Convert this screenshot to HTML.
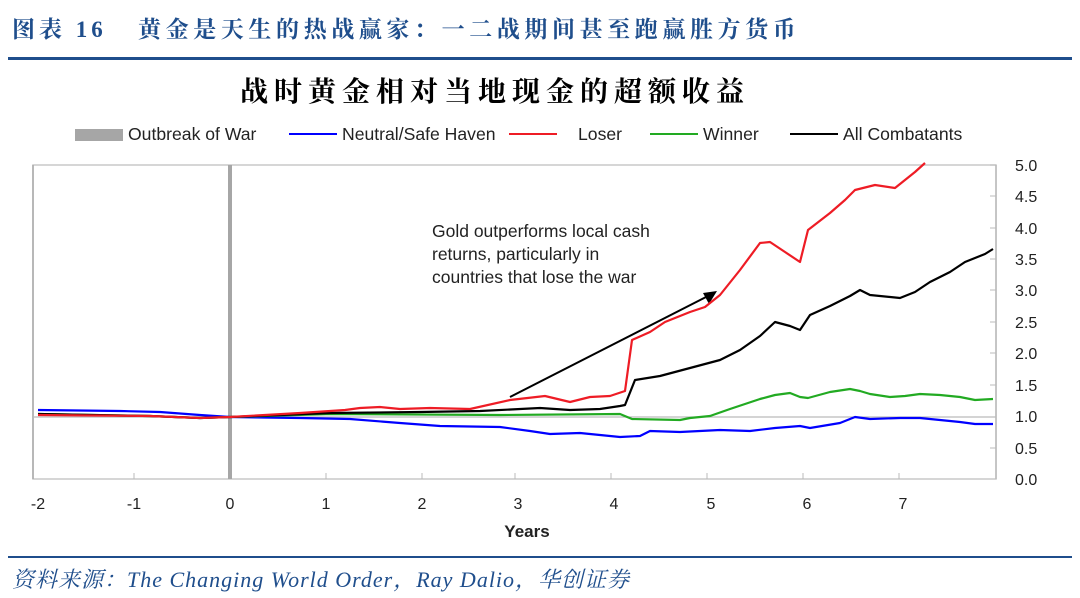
<!DOCTYPE html>
<html><head><meta charset="utf-8"><style>
body{margin:0;background:#fff;width:1080px;height:598px;overflow:hidden}
svg{display:block}
</style></head><body>
<svg width="1080" height="598" viewBox="0 0 1080 598" xmlns="http://www.w3.org/2000/svg">
<text x="12" y="37" font-family="'Liberation Serif','Noto Serif CJK SC',serif" font-size="23" font-weight="bold" fill="#1f4e8c" letter-spacing="4">图表 16</text>
<text x="138" y="37" font-family="'Liberation Serif','Noto Serif CJK SC',serif" font-size="23" font-weight="bold" fill="#1f4e8c" letter-spacing="4.6">黄金是天生的热战赢家：一二战期间甚至跑赢胜方货币</text>
<rect x="8" y="57" width="1064" height="3" fill="#1f4e8c"/>
<text x="495" y="101" text-anchor="middle" font-family="'Noto Serif CJK SC',serif" font-size="28" font-weight="bold" fill="#000" letter-spacing="6">战时黄金相对当地现金的超额收益</text>
<g font-family="'Liberation Sans','DejaVu Sans',sans-serif" font-size="17.6" fill="#222">
<rect x="75" y="129" width="48" height="12" fill="#a6a6a6"/><text x="128" y="140">Outbreak of War</text>
<line x1="289" y1="134" x2="337" y2="134" stroke="#0000ff" stroke-width="2"/><text x="342" y="140">Neutral/Safe Haven</text>
<line x1="509" y1="134" x2="557" y2="134" stroke="#ee1c25" stroke-width="2"/><text x="578" y="140">Loser</text>
<line x1="650" y1="134" x2="698" y2="134" stroke="#22aa22" stroke-width="2"/><text x="703" y="140">Winner</text>
<line x1="790" y1="134" x2="838" y2="134" stroke="#000" stroke-width="2"/><text x="843" y="140">All Combatants</text>
</g>
<rect x="33" y="165" width="963" height="314" fill="none" stroke="#c8c8c8" stroke-width="1.5"/>
<line x1="33" y1="165" x2="33" y2="479" stroke="#aaa" stroke-width="1.5"/>
<line x1="33" y1="417" x2="996" y2="417" stroke="#bbb" stroke-width="1.2"/>
<line x1="996" y1="165" x2="996" y2="479" stroke="#bbb" stroke-width="1.5"/>
<rect x="228" y="165" width="4" height="314" fill="#a6a6a6"/>
<g stroke="#bbb" stroke-width="1">
<line x1="996" y1="165" x2="990" y2="165"/><line x1="996" y1="196" x2="990" y2="196"/><line x1="996" y1="228" x2="990" y2="228"/><line x1="996" y1="259" x2="990" y2="259"/><line x1="996" y1="290" x2="990" y2="290"/><line x1="996" y1="322" x2="990" y2="322"/><line x1="996" y1="353" x2="990" y2="353"/><line x1="996" y1="385" x2="990" y2="385"/><line x1="996" y1="448" x2="990" y2="448"/>
<line x1="326" y1="479" x2="326" y2="473"/><line x1="422" y1="479" x2="422" y2="473"/><line x1="515" y1="479" x2="515" y2="473"/><line x1="611" y1="479" x2="611" y2="473"/><line x1="707" y1="479" x2="707" y2="473"/><line x1="803" y1="479" x2="803" y2="473"/><line x1="899" y1="479" x2="899" y2="473"/><line x1="134" y1="479" x2="134" y2="473"/>
</g>
<g font-family="'Liberation Sans','DejaVu Sans',sans-serif" font-size="16" fill="#222">
<text x="1015" y="171">5.0</text><text x="1015" y="202">4.5</text><text x="1015" y="234">4.0</text><text x="1015" y="265">3.5</text><text x="1015" y="296">3.0</text><text x="1015" y="328">2.5</text><text x="1015" y="359">2.0</text><text x="1015" y="391">1.5</text><text x="1015" y="422">1.0</text><text x="1015" y="454">0.5</text><text x="1015" y="485">0.0</text>
<g text-anchor="middle"><text x="38" y="509">-2</text><text x="134" y="509">-1</text><text x="230" y="509">0</text><text x="326" y="509">1</text><text x="422" y="509">2</text><text x="518" y="509">3</text><text x="614" y="509">4</text><text x="711" y="509">5</text><text x="807" y="509">6</text><text x="903" y="509">7</text>
<text x="527" y="537" font-weight="bold" font-size="17">Years</text></g>
<text x="432" y="237" font-size="17.5">Gold outperforms local cash</text>
<text x="432" y="260" font-size="17.5">returns, particularly in</text>
<text x="432" y="283" font-size="17.5">countries that lose the war</text>
</g>
<line x1="510" y1="397" x2="708" y2="296" stroke="#000" stroke-width="2"/>
<polygon points="717,291 703,293 709,304" fill="#000"/>
<g fill="none" stroke-width="2.2" stroke-linejoin="round">
<polyline stroke="#0000ff" points="38,410 120,411 160,412 200,415 230,417 300,418 350,419 400,423 440,426 500,427 530,431 550,434 580,433 620,437 640,436 650,431 680,432 720,430 750,431 775,428 800,426 810,428 840,423 855,417 870,419 900,418 920,418 940,420 960,422 975,424 993,424"/>
<polyline stroke="#22aa22" points="38,414 150,416 200,418 230,417 330,414 500,415 620,414 632,419 680,420 690,418 710,416 730,409 760,399 775,395 790,393 800,397 808,398 830,392 850,389 860,391 870,394 890,397 905,396 920,394 940,395 960,397 975,400 993,399"/>
<polyline stroke="#000" points="38,414 150,416 200,418 230,417 330,413 420,412 480,411 540,408 570,410 600,409 620,406 625,405 635,380 660,376 690,368 720,360 740,350 760,336 775,322 790,326 800,330 810,315 830,306 850,296 860,290 870,295 900,298 915,292 930,282 950,272 965,262 985,254 993,249"/>
<polyline stroke="#ee1c25" points="38,415 150,416 200,418 230,417 300,413 330,411 345,410 360,408 380,407 400,409 430,408 470,409 510,400 545,396 570,402 590,397 610,396 625,391 632,340 650,332 665,322 690,312 705,307 720,295 740,270 760,243 770,242 785,252 800,262 808,230 830,213 845,200 855,190 875,185 895,188 905,180 915,172 925,163"/>
</g>
<rect x="8" y="556" width="1064" height="2" fill="#1f4e8c"/>
<text x="12" y="587" font-family="'Liberation Serif','Noto Serif CJK SC',serif" font-size="22" font-style="italic" fill="#1f4e8c" letter-spacing="1">资料来源：The Changing World Order，Ray Dalio，华创证券</text>
</svg>
</body></html>
